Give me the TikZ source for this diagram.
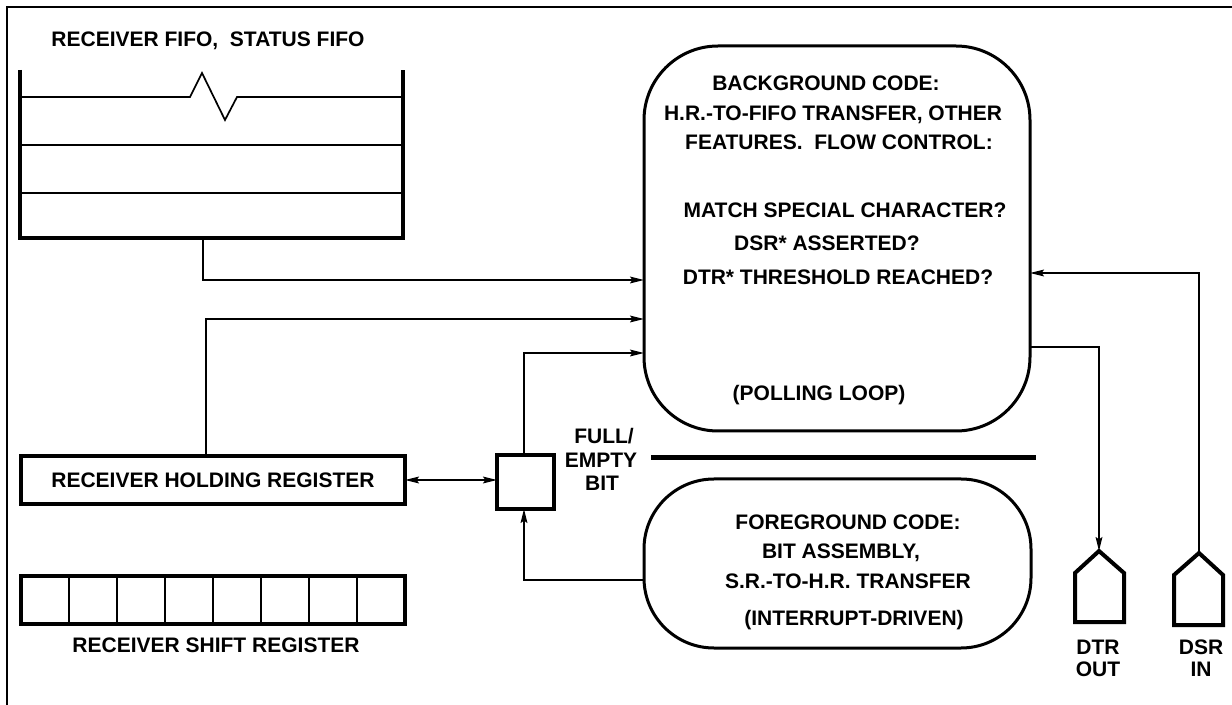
\documentclass[tikz,border=0pt]{standalone}
\usepackage{fontspec}
\setmainfont{Liberation Sans}
\usetikzlibrary{arrows.meta}

\newcommand\lbfont{\fontsize{10.5pt}{11.5pt}\selectfont\bfseries}
\tikzset{
  lbl/.style={font=\lbfont, inner sep=0pt, text height=7.5pt, text depth=0pt},
  regbox/.style={draw, line width=2pt, outer sep=0pt, inner sep=0pt,
    font=\lbfont, text height=7.5pt, text depth=0pt},
  codebox/.style={draw, line width=1.5pt, outer sep=0pt, inner sep=0pt},
  wire/.style={line width=0.75pt},
  arr/.style={wire, ->},
  thinrule/.style={line width=0.85pt},
}

\begin{document}
\begin{tikzpicture}[x=0.5pt, y=-0.5pt, >={Stealth[length=7pt,width=3.4pt,inset=1.2pt]}]
\useasboundingbox (0,0) rectangle (1232,705);

% Page border, only top and left show
\draw[line width=1pt] (7,705) -- (7,7) -- (1232,7);

% Receiver FIFO / status FIFO stack
\node[lbl] (fifotitle) at (208,39) {RECEIVER FIFO,\ \ STATUS FIFO};
\draw[line width=2pt] (20,70) -- (20,238) -- (403,238) -- (403,70);
\draw[thinrule] (20,97) -- (190,97) -- (202,73) -- (225,120) -- (237,97) -- (403,97);
\draw[thinrule] (20,145) -- (403,145);
\draw[thinrule] (20,193) -- (403,193);
\coordinate (fifoout) at (203,238);

% Background code (polling loop)
\node[codebox, rounded corners=37pt, minimum width=193pt, minimum height=192.5pt] (bgcode) at (837,238.5) {};
\node[lbl] (bga) at (826,83) {BACKGROUND CODE:};
\node[lbl] (bgb) at (833,113) {H.R.-TO-FIFO TRANSFER, OTHER};
\node[lbl] (bgc) at (839,142) {FEATURES.\ \ FLOW CONTROL:};
\node[lbl] (bgd) at (845,210) {MATCH SPECIAL CHARACTER?};
\node[lbl] (bge) at (827,243) {DSR* ASSERTED?};
\node[lbl] (bgf) at (838,277) {DTR* THRESHOLD REACHED?};
\node[lbl] (bgg) at (819,393) {(POLLING LOOP)};

% Divider between background and foreground
\draw[line width=2.5pt] (651,458) -- (1036,458);

% Foreground code (interrupt-driven)
\node[codebox, rounded corners=35pt, minimum width=193.5pt, minimum height=84.5pt] (fgcode) at (837.5,563.5) {};
\node[lbl] (fga) at (848,522) {FOREGROUND CODE:};
\node[lbl] (fgb) at (841,551) {BIT ASSEMBLY,};
\node[lbl] (fgc) at (848,581) {S.R.-TO-H.R. TRANSFER};
\node[lbl] (fgd) at (854,618) {(INTERRUPT-DRIVEN)};

% Receiver holding register
\node[regbox, minimum width=192pt, minimum height=24pt] (holdreg) at (213,480) {RECEIVER HOLDING REGISTER};

% Receiver shift register, 8 cells
\node[regbox, minimum width=192pt, minimum height=24pt] (shiftreg) at (213,600) {};
\foreach \i in {1,...,7}
  \draw[thinrule] ([xshift=\i*24pt]shiftreg.north west) -- ([xshift=\i*24pt]shiftreg.south west);
\node[lbl] (shiftlbl) at (216,645) {RECEIVER SHIFT REGISTER};

% Full/empty bit
\node[regbox, minimum width=28.5pt, minimum height=27pt] (fullbit) at (525.5,482) {};
\node[lbl] (fulla) at (604,436) {FULL/};
\node[lbl] (fullb) at (601,460) {EMPTY};
\node[lbl] (fullc) at (602,483) {BIT};

% DTR out and DSR in
\draw[line width=2pt] (1075,622) -- (1075,573) -- (1099,551) -- (1124,573) -- (1124,622) -- cycle;
\coordinate (dtrtip) at (1099,551);
\node[lbl] (dtra) at (1098,647) {DTR};
\node[lbl] (dtrb) at (1098,669) {OUT};
\draw[line width=2pt] (1174,625) -- (1174,575) -- (1199,553) -- (1223,575) -- (1223,625) -- cycle;
\coordinate (dsrtip) at (1199,553);
\node[lbl] (dsra) at (1201,647) {DSR};
\node[lbl] (dsrb) at (1201,669) {IN};

% Connectors
\draw[arr] (fifoout) |- (bgcode.west |- 0,280);
\draw[arr] (holdreg.north -| 206,0) |- (bgcode.west |- 0,319);
\draw[wire, <->] (holdreg.east) -- (holdreg.east -| fullbit.west);
\draw[arr] (fullbit.north -| 524,0) |- (bgcode.west |- 0,353);
\draw[arr] (fgcode.west |- 0,580) -| (fullbit.south -| 524,0);
\draw[arr] (bgcode.east |- 0,347) -| (dtrtip);
\draw[arr] (dsrtip) |- (bgcode.east |- 0,273);
\end{tikzpicture}
\end{document}
